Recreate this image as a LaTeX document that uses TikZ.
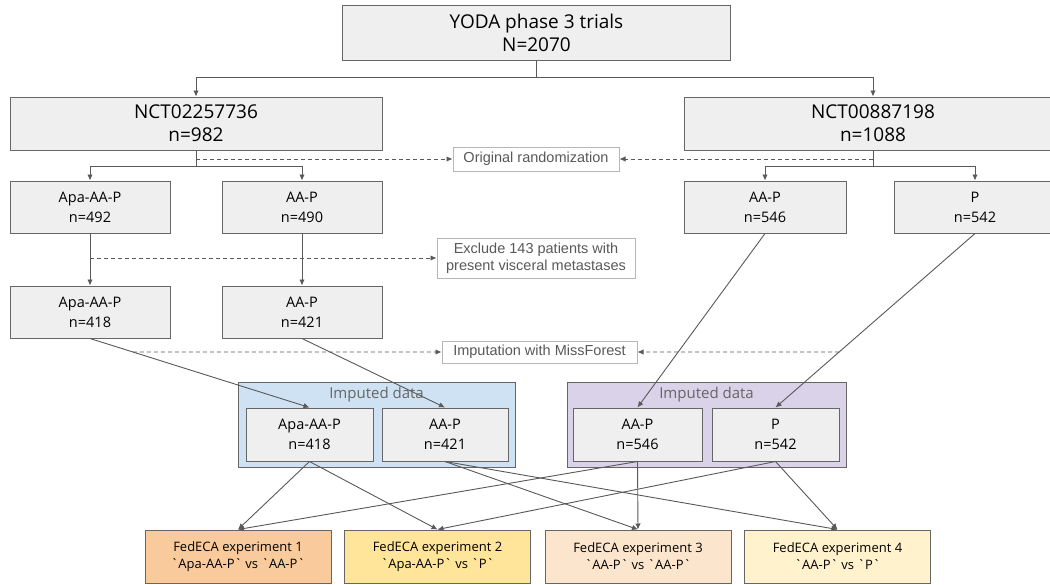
\documentclass[tikz,border=0pt]{standalone}
\usepackage{fontspec}
\setmainfont{Open Sans}
\newfontfamily\labelfont{Liberation Sans}
\usetikzlibrary{arrows.meta,calc}
\newcommand\bq{\textasciigrave}
\definecolor{boxfill}{HTML}{EFEFEF}
\definecolor{boxdraw}{HTML}{666666}
\definecolor{linecol}{HTML}{595959}
\definecolor{lblcol}{HTML}{595959}
\definecolor{lbldraw}{HTML}{B7B7B7}
\definecolor{bluefill}{HTML}{CFE2F3}
\definecolor{purplefill}{HTML}{D9D2E9}
\definecolor{expA}{HTML}{F9CB9C}
\definecolor{expB}{HTML}{FFE599}
\definecolor{expC}{HTML}{FCE5CD}
\definecolor{expD}{HTML}{FFF2CC}
\tikzset{
  bigbox/.style={draw=boxdraw, fill=boxfill, line width=1pt, align=center, inner sep=0pt,
    font=\fontsize{19}{23}\selectfont},
  armbox/.style={draw=boxdraw, fill=boxfill, line width=1pt, align=center, inner sep=0pt,
    font=\fontsize{14.5}{20}\selectfont},
  expbox/.style={draw=boxdraw, line width=1pt, align=center, inner sep=0pt,
    minimum width=186pt, minimum height=53pt, font=\fontsize{13}{17}\selectfont},
  lblbox/.style={draw=lbldraw, fill=white, line width=1pt, align=center, inner sep=0pt,
    text=lblcol, font=\labelfont\fontsize{14.5}{17}\selectfont},
  container/.style={draw=boxdraw, line width=1pt, inner sep=0pt,
    minimum width=278pt, minimum height=85pt},
  conttitle/.style={text=boxdraw, inner sep=0pt, font=\fontsize{15}{18}\selectfont},
  arr/.style={draw=linecol, line width=0.9pt, -{Latex[length=6pt,width=5.5pt]}},
  plain/.style={draw=linecol, line width=0.9pt},
  dasharr/.style={draw=linecol, line width=0.9pt, dash pattern=on 4pt off 3pt,
    -{Latex[length=6pt,width=5.5pt]}},
}
\begin{document}
\begin{tikzpicture}[x=1pt,y=-1pt]
\useasboundingbox (0,0) rectangle (1050,584);
\fill[white] (0,0) rectangle (1050,584);
\clip (0,0) rectangle (1050,584);

% top level
\node[bigbox, minimum width=388pt, minimum height=55pt] (top) at (536.5,32.5) {YODA phase 3 trials\\N=2070};
\node[bigbox, minimum width=372pt, minimum height=53pt] (nctA) at (196,123.5) {NCT02257736\\n=982};
\node[bigbox, minimum width=378pt, minimum height=53pt] (nctB) at (873,123.5) {NCT00887198\\n=1088};

% arms
\node[armbox, minimum width=160pt, minimum height=52pt] (apaA) at (90,207) {Apa-AA-P\\n=492};
\node[armbox, minimum width=160pt, minimum height=52pt] (aapA) at (302,207) {AA-P\\n=490};
\node[armbox, minimum width=162pt, minimum height=52pt] (aapB) at (765,207) {AA-P\\n=546};
\node[armbox, minimum width=162pt, minimum height=52pt] (pB) at (975,207) {P\\n=542};

\node[armbox, minimum width=160pt, minimum height=52pt] (apaC) at (90,312) {Apa-AA-P\\n=418};
\node[armbox, minimum width=160pt, minimum height=52pt] (aapC) at (302,312) {AA-P\\n=421};

% labels
\node[lblbox, minimum width=166pt, minimum height=24pt] (orig) at (536,159) {Original randomization};
\node[lblbox, minimum width=198pt, minimum height=40pt] (excl) at (536,258) {Exclude 143 patients with\\present visceral metastases};
\node[lblbox, minimum width=195pt, minimum height=22pt] (imput) at (539.5,352) {Imputation with MissForest};

% containers
\node[container, fill=bluefill, minimum width=277pt] (blueC) at (376.5,424.5) {};
\node[conttitle] (blueT) at (376.5,395) {Imputed data};
\node[container, fill=purplefill, minimum width=279pt] (purpC) at (706.5,424.5) {};
\node[conttitle] (purpT) at (706.5,395) {Imputed data};

\node[armbox, minimum width=127pt, minimum height=53pt] (inApa) at (309.5,434.5) {Apa-AA-P\\n=418};
\node[armbox, minimum width=126pt, minimum height=53pt] (inAap) at (445,434.5) {AA-P\\n=421};
\node[armbox, minimum width=129pt, minimum height=53pt] (inAapB) at (637.5,434.5) {AA-P\\n=546};
\node[armbox, minimum width=127pt, minimum height=53pt] (inP) at (775.5,434.5) {P\\n=542};

% experiments
\node[expbox, fill=expA] (e1) at (238,556.5) {FedECA experiment 1\\\bq Apa-AA-P\bq{} vs \bq AA-P\bq};
\node[expbox, fill=expB] (e2) at (437.5,556.5) {FedECA experiment 2\\\bq Apa-AA-P\bq{} vs \bq P\bq};
\node[expbox, fill=expC] (e3) at (638,556.5) {FedECA experiment 3\\\bq AA-P\bq{} vs \bq AA-P\bq};
\node[expbox, fill=expD] (e4) at (837.5,556.5) {FedECA experiment 4\\\bq AA-P\bq{} vs \bq P\bq};

% tree connectors
\draw[arr] (top.south) -- ++(0,17) -| (nctA.north);
\draw[arr] (top.south) -- ++(0,17) -| (nctB.north);
\draw[arr] (nctA.south) -- ++(0,15.5) -| (apaA.north);
\draw[arr] (nctA.south) -- ++(0,15.5) -| (aapA.north);
\draw[arr] (nctB.south) -- ++(0,15.5) -| (aapB.north);
\draw[arr] (nctB.south) -- ++(0,15.5) -| (pB.north);
\draw[arr] (apaA.south) -- (apaC.north);
\draw[arr] (aapA.south) -- (aapC.north);

\draw[arr] (apaC.south) -- (inApa.north);
\draw[arr] (aapC.south) -- (inAap.north);
\draw[arr] (aapB.south) -- (inAapB.north);
\draw[arr] (pB.south) -- (inP.north);

% dashed annotations
\coordinate (oL) at (nctA.south |- orig.west);
\coordinate (oR) at (nctB.south |- orig.east);
\draw[dasharr] (oL) -- (orig.west);
\draw[dasharr] (oR) -- (orig.east);
\coordinate (xL) at (apaA.south |- excl.west);
\draw[dasharr] (xL) -- (excl.west);
\coordinate (iL) at (intersection of apaC.south--inApa.north and imput.west--imput.east);
\coordinate (iR) at (intersection of pB.south--inP.north and imput.west--imput.east);
\draw[dasharr] (iL) -- (imput.west);
\draw[dasharr] (iR) -- (imput.east);

% to experiments
\draw[arr] (inApa.south) -- (e1.north);
\draw[arr] (inApa.south) -- (e2.north);
\draw[arr] (inAap.south) -- (e3.north);
\draw[arr] (inAap.south) -- (e4.north);
\draw[arr] (inAapB.south) -- (e1.north);
\draw[arr] (inAapB.south) -- (e3.north);
\draw[arr] (inP.south) -- (e2.north);
\draw[arr] (inP.south) -- (e4.north);
\end{tikzpicture}
\end{document}
